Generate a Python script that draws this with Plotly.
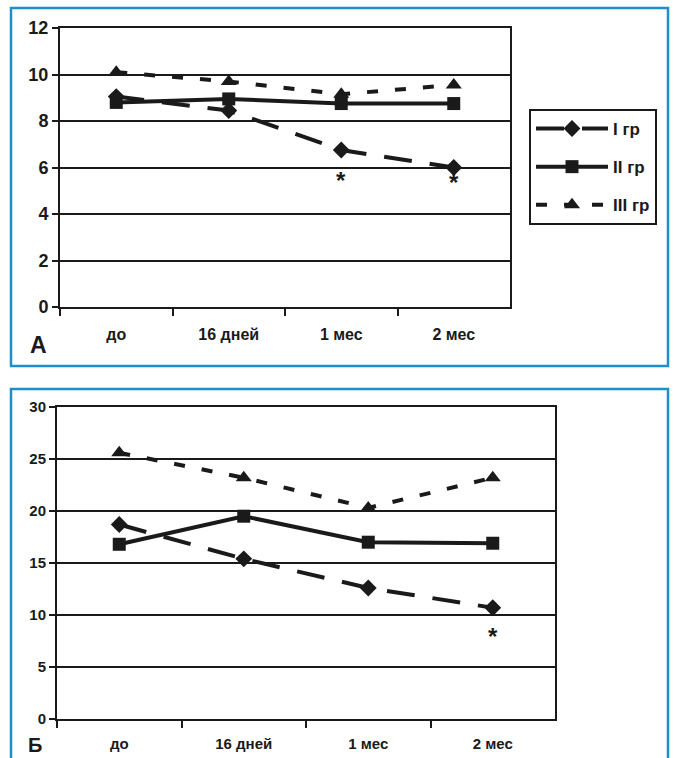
import plotly.graph_objects as go

W, H = 673, 758

categories = ["до", "16 дней", "1 мес", "2 мес"]
series_names = ["I гр", "II гр", "III гр"]

# Panel A
a_group1 = [9.05, 8.45, 6.75, 6.0]
a_group2 = [8.8, 8.95, 8.75, 8.75]
a_group3 = [10.1, 9.7, 9.15, 9.55]
a_yticks = [0, 2, 4, 6, 8, 10, 12]
a_star_cats = ["1 мес", "2 мес"]
a_star_vals = [5.45, 5.35]

# Panel B
b_group1 = [18.7, 15.4, 12.6, 10.7]
b_group2 = [16.8, 19.5, 17.0, 16.9]
b_group3 = [25.6, 23.2, 20.3, 23.2]
b_yticks = [0, 5, 10, 15, 20, 25, 30]
b_star_cats = ["2 мес"]
b_star_vals = [7.9]

styles = [
    dict(dash="28px,18px", symbol="diamond", size=13),
    dict(dash="solid", symbol="square", size=13),
    dict(dash="11px,17px", symbol="triangle-up", size=14),
]

BLUE = "#1f8fcc"
INK = "#1a1a1a"
FONT = "Liberation Sans, Arial, sans-serif"
NARROW = "Liberation Sans Narrow, Liberation Sans, Arial, sans-serif"

fig = go.Figure()

def px_x(p):
    return p / W

def px_y(p):
    return 1 - p / H

for xa, ya, data, show in [("x", "y", [a_group1, a_group2, a_group3], True),
                            ("x2", "y2", [b_group1, b_group2, b_group3], False)]:
    for i, (name, vals, st) in enumerate(zip(series_names, data, styles)):
        fig.add_trace(go.Scatter(
            x=categories, y=vals, name=name, xaxis=xa, yaxis=ya,
            legendgroup=f"g{i}", mode="lines+markers", showlegend=show,
            line=dict(color=INK, width=4, dash=st["dash"]),
            marker=dict(symbol=st["symbol"], size=st["size"], color=INK),
        ))

common_x = dict(type="category", categoryorder="array", categoryarray=categories,
                range=[-0.5, 3.5], tickson="boundaries", ticks="outside",
                ticklen=7, tickwidth=2, tickcolor=INK, showline=True,
                linecolor=INK, linewidth=2, mirror=True, showgrid=False,
                zeroline=False, automargin=False)
common_y = dict(ticks="outside", ticklen=6, tickwidth=2, tickcolor=INK,
                showline=True, linecolor=INK, linewidth=2, mirror=True,
                showgrid=True, gridcolor=INK, gridwidth=2, zeroline=False,
                automargin=False)

fig.update_layout(
    width=W, height=H,
    margin=dict(l=0, r=0, t=0, b=0, pad=0, autoexpand=False),
    paper_bgcolor="white", plot_bgcolor="white",
    xaxis=dict(common_x, domain=[px_x(60), px_x(510)], anchor="y",
               tickfont=dict(family=FONT, size=16, color=INK, weight="bold"),
               ticklabelstandoff=12),
    yaxis=dict(common_y, domain=[px_y(307), px_y(28)], anchor="x",
               range=[0, 12], tickvals=a_yticks,
               tickfont=dict(family=FONT, size=18, color=INK, weight="bold")),
    xaxis2=dict(common_x, domain=[px_x(57), px_x(555)], anchor="y2",
                tickfont=dict(family=NARROW, size=15, color=INK, weight="bold"),
                ticklabelstandoff=10),
    yaxis2=dict(common_y, domain=[px_y(719), px_y(407)], anchor="x2",
                range=[0, 30], tickvals=b_yticks,
                tickfont=dict(family=NARROW, size=15, color=INK, weight="bold")),
    legend=dict(x=px_x(529), y=px_y(109), xanchor="left", yanchor="top",
                bordercolor=INK, borderwidth=2, bgcolor="white",
                font=dict(family=FONT, size=17, color=INK, weight="bold"),
                itemwidth=72, tracegroupgap=13),
    showlegend=True,
)

# blue frames
fig.add_shape(type="rect", xref="paper", yref="paper",
              x0=px_x(11), x1=px_x(668), y0=px_y(366), y1=px_y(8),
              line=dict(color=BLUE, width=2.5))
fig.add_shape(type="rect", xref="paper", yref="paper",
              x0=px_x(11), x1=px_x(668), y0=px_y(775), y1=px_y(389),
              line=dict(color=BLUE, width=2.5))

# panel labels
fig.add_annotation(text="<b>А</b>", xref="paper", yref="paper",
                   x=px_x(28), y=px_y(345), showarrow=False,
                   font=dict(family=FONT, size=23, color=INK))
fig.add_annotation(text="<b>Б</b>", xref="paper", yref="paper",
                   x=px_x(27), y=px_y(757), yanchor="bottom", showarrow=False,
                   borderpad=0, font=dict(family=FONT, size=20, color=INK))

# significance stars
for c, v in zip(a_star_cats, a_star_vals):
    fig.add_annotation(text="<b>*</b>", x=c, y=v, xref="x", yref="y",
                       showarrow=False, font=dict(family=FONT, size=24, color=INK))
for c, v in zip(b_star_cats, b_star_vals):
    fig.add_annotation(text="<b>*</b>", x=c, y=v, xref="x2", yref="y2",
                       showarrow=False, font=dict(family=FONT, size=24, color=INK))

fig.write_html("out.html", config={"displayModeBar": False},
               post_script="document.body.style.margin='0';document.body.style.padding='0';document.body.style.overflow='hidden';")
